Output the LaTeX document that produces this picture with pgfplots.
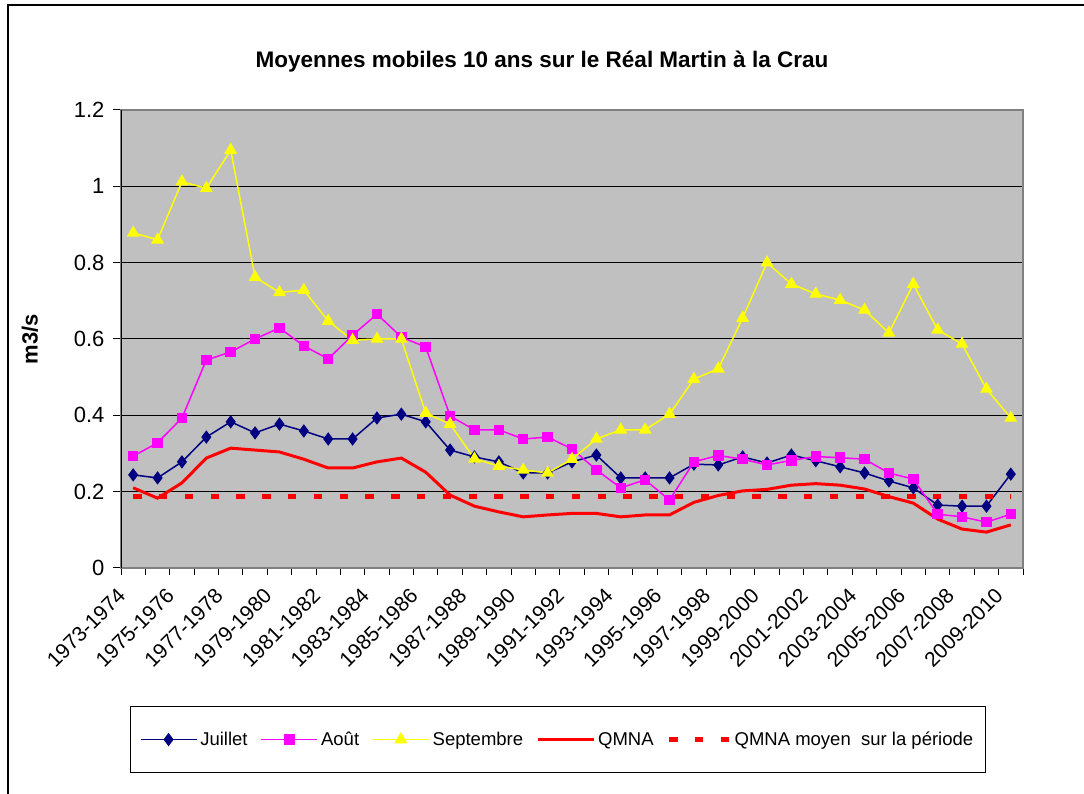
\documentclass[border=0pt]{standalone}
\usepackage{fontspec}
\setmainfont{Liberation Sans}
\usepackage{pgfplots}
\pgfplotsset{compat=1.18}
\usepackage{pgfplotstable}
\definecolor{exnavy}{RGB}{0,0,128}
\definecolor{exmag}{RGB}{255,0,255}
\definecolor{exyel}{RGB}{255,255,0}
\definecolor{exred}{RGB}{255,0,0}
\definecolor{exbg}{RGB}{192,192,192}
\definecolor{exborder}{RGB}{128,128,128}
\pgfplotsset{dashlegend/.style={legend image code/.code={\draw[##1] (0pt,0pt) -- (60pt,0pt);}}}

\pgfplotstableread{
i J A S Q
0 0.244 0.293 0.878 0.210
1 0.236 0.328 0.860 0.183
2 0.278 0.393 1.012 0.223
3 0.343 0.545 0.995 0.288
4 0.383 0.566 1.095 0.314
5 0.354 0.600 0.762 0.309
6 0.377 0.629 0.722 0.304
7 0.359 0.582 0.728 0.285
8 0.338 0.548 0.647 0.262
9 0.338 0.610 0.597 0.262
10 0.393 0.665 0.600 0.278
11 0.403 0.605 0.600 0.288
12 0.383 0.579 0.406 0.251
13 0.309 0.398 0.377 0.191
14 0.291 0.362 0.286 0.162
15 0.278 0.362 0.267 0.147
16 0.249 0.338 0.257 0.134
17 0.249 0.343 0.249 0.139
18 0.278 0.312 0.285 0.143
19 0.296 0.257 0.338 0.143
20 0.236 0.210 0.362 0.134
21 0.236 0.231 0.362 0.139
22 0.236 0.178 0.403 0.139
23 0.272 0.278 0.495 0.172
24 0.270 0.295 0.522 0.190
25 0.291 0.285 0.655 0.202
26 0.275 0.270 0.800 0.206
27 0.296 0.282 0.744 0.217
28 0.281 0.292 0.718 0.221
29 0.265 0.289 0.702 0.217
30 0.249 0.285 0.676 0.207
31 0.228 0.249 0.616 0.187
32 0.210 0.233 0.744 0.170
33 0.165 0.141 0.624 0.128
34 0.162 0.134 0.587 0.102
35 0.162 0.120 0.469 0.094
36 0.246 0.141 0.393 0.113
}\datatable

\begin{document}
\begin{tikzpicture}
\useasboundingbox (0pt,0pt) rectangle (1084pt,794pt);
\draw[black, line width=1.5pt] (8pt,0pt) -- (8pt,789pt) -- (1084pt,789pt);
\begin{axis}[
  at={(121pt,226pt)}, anchor=south west,
  width=902pt, height=458pt, scale only axis,
  xmin=-0.5, xmax=36.5, ymin=0, ymax=1.2,
  ytick={0,0.2,0.4,0.6,0.8,1,1.2},
  yticklabels={0,0.2,0.4,0.6,0.8,1,1.2},
  xtick={0,2,...,36},
  xticklabels={1973-1974,1975-1976,1977-1978,1979-1980,1981-1982,1983-1984,1985-1986,1987-1988,1989-1990,1991-1992,1993-1994,1995-1996,1997-1998,1999-2000,2001-2002,2003-2004,2005-2006,2007-2008,2009-2010},
  minor xtick={-0.5,0.5,...,36.5},
  major x tick style={draw=none},
  tick align=outside, xtick pos=bottom, ytick pos=left,
  major tick length=8pt, minor tick length=7pt,
  tick style={black, line width=1pt},
  ymajorgrids, major grid style={black, line width=1pt},
  axis background/.style={fill=exbg},
  axis line style={draw=exborder, line width=1.2pt},
  yticklabel style={font=\fontsize{22}{26}\selectfont, xshift=-5pt},
  xticklabel style={font=\fontsize{21}{25}\selectfont, xshift=-17pt, yshift=-6pt, rotate=45, anchor=north east},
  title={Moyennes mobiles 10 ans sur le Réal Martin à la Crau},
  title style={font=\bfseries\fontsize{22.5}{26}\selectfont, at={(0.4667,1.092)}, anchor=center},
  ylabel={m3/s},
  ylabel style={font=\bfseries\fontsize{22}{26}\selectfont, at={(-0.1009,0.5)}, anchor=center},
  legend columns=5,
  legend cell align=left,
  legend image code/.code={\draw[#1,mark repeat=2,mark phase=2] plot coordinates {(0pt,0pt) (28pt,0pt) (56pt,0pt)};},
  legend style={at={(0.4845,-0.3745)}, anchor=center, draw=black, line width=1pt, fill=white,
    font=\fontsize{18.5}{22}\selectfont, inner xsep=9pt, inner ysep=22.5pt,
    nodes={inner sep=3pt},
    /tikz/every even column/.append style={column sep=10pt}},
]
\addplot[exnavy, line width=1.5pt, mark=diamond*, mark size=5.5pt, mark options={fill=exnavy, draw=exnavy}] table[x=i,y=J] {\datatable};
\addlegendentry{Juillet}
\addplot[exmag, line width=1.5pt, mark=square*, mark size=4.5pt, mark options={fill=exmag, draw=exmag}] table[x=i,y=A] {\datatable};
\addlegendentry{Août}
\addplot[exyel, line width=1.5pt, mark=triangle*, mark size=6pt, mark options={fill=exyel, draw=exyel}] table[x=i,y=S] {\datatable};
\addlegendentry{Septembre}
\addplot[exred, line width=3pt, no markers] table[x=i,y=Q] {\datatable};
\addlegendentry{QMNA}
\addplot[exred, line width=5pt, line cap=butt, dash pattern=on 8.5pt off 17.3pt, no markers, dashlegend] coordinates {(0,0.188) (36,0.188)};
\addlegendentry{QMNA moyen~ sur la période}
\draw[black, line width=1.2pt] (rel axis cs:0,0) -- (rel axis cs:0,1);
\end{axis}
\end{tikzpicture}
\end{document}
